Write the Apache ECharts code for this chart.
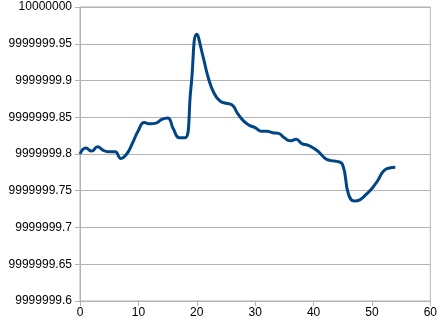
<!DOCTYPE html>
<html>
<head>
<meta charset="utf-8">
<script src="https://cdn.jsdelivr.net/npm/echarts@6/dist/echarts.min.js"></script>
<style>
html, body { margin: 0; padding: 0; background: #fff; }
#chart { width: 440px; height: 329px; }
</style>
</head>
<body>
<div id="chart"></div>
<script>
const xValues = [0,1,2,3,4,5,6,7,8,9,10,11,12,13,14,15,16,17,18,19,20,21,22,23,24,25,26,27,28,29,30,31,32,33,34,35,36,37,38,39,40,41,42,43,44,45,46,47,48,49,50,51,52,53,54]
const yValues = [
    9999999.800, 9999999.808, 9999999.804, 9999999.810, 9999999.805, 9999999.803, 9999999.803, 9999999.794, 9999999.800, 9999999.815,
    9999999.832, 9999999.843, 9999999.841, 9999999.842, 9999999.847, 9999999.849, 9999999.834, 9999999.822, 9999999.822, 9999999.890,
    9999999.963, 9999999.935, 9999999.903, 9999999.882, 9999999.872, 9999999.869, 9999999.867, 9999999.855, 9999999.845, 9999999.839,
    9999999.836, 9999999.831, 9999999.831, 9999999.829, 9999999.828, 9999999.822, 9999999.818, 9999999.820, 9999999.814, 9999999.812,
    9999999.808, 9999999.802, 9999999.794, 9999999.791, 9999999.790, 9999999.785, 9999999.745, 9999999.736, 9999999.738, 9999999.745,
    9999999.753, 9999999.764, 9999999.777, 9999999.781, 9999999.782
]
const yMin = 9999999.6
const yMax = 10000000
const yStep = 0.05
const yTickLabels = ['9999999.6', '9999999.65', '9999999.7', '9999999.75', '9999999.8', '9999999.85', '9999999.9', '9999999.95', '10000000']

let chart = echarts.init(document.getElementById('chart'))
let option = {
    animation: false,
    grid: {
        show: true,
        borderColor: '#b3b3b3',
        borderWidth: 1,
        top: 7,
        bottom: 28,
        left: 80,
        right: 8
    },
    xAxis: {
        type: 'value',
        min: 0,
        max: 60,
        interval: 10,
        axisLine: { lineStyle: { color: '#b3b3b3' } },
        axisTick: { show: true, length: 5, lineStyle: { color: '#b3b3b3' } },
        axisLabel: { color: '#000', fontSize: 12, fontFamily: 'Liberation Sans', margin: 6 },
        splitLine: { show: false }
    },
    yAxis: {
        type: 'value',
        min: yMin,
        max: yMax,
        interval: yStep,
        axisLine: { show: true, lineStyle: { color: '#b3b3b3' } },
        axisTick: { show: true, length: 5, lineStyle: { color: '#b3b3b3' } },
        axisLabel: {
            color: '#000',
            fontSize: 12,
            fontFamily: 'Liberation Sans',
            margin: 8,
            formatter: (v) => yTickLabels[Math.round((v - yMin) / yStep)]
        },
        splitLine: { show: true, lineStyle: { color: '#b3b3b3', width: 1 } }
    },
    series: [{
        type: 'line',
        data: xValues.map((x, i) => [x, yValues[i]]),
        smooth: 0.5,
        showSymbol: false,
        lineStyle: { color: '#004586', width: 3 }
    }]
}
chart.setOption(option)
</script>
</body>
</html>
